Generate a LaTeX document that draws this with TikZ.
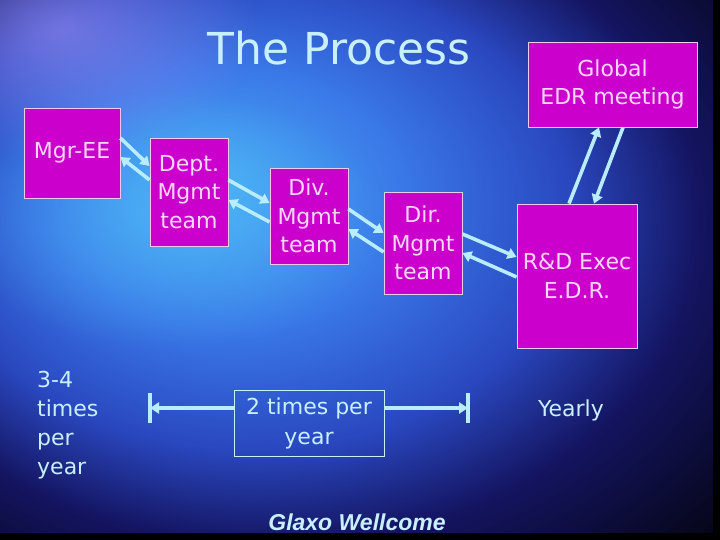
\documentclass[tikz,border=0pt]{standalone}
\usepackage{fontspec}
\setmainfont{DejaVu Sans}
\newfontfamily\glaxofont{Liberation Sans}
\usetikzlibrary{arrows.meta,fadings}
\definecolor{boxfill}{HTML}{CC00CC}
\definecolor{boxline}{HTML}{F0C8F0}
\definecolor{boxtext}{HTML}{F8D8F8}
\definecolor{paletext}{HTML}{C8F0FF}
\definecolor{arrowcol}{HTML}{B8ECFF}
\definecolor{bgA}{HTML}{4AAEF4}
\definecolor{bgB}{HTML}{3A78E8}
\definecolor{bgC}{HTML}{2A48C0}
\definecolor{bgD}{HTML}{141460}
\definecolor{bgE}{HTML}{06061A}
\definecolor{violetspot}{HTML}{A090F4}
\definecolor{cyanspot}{HTML}{50C0F8}
\pgfdeclareradialshading{bgshade}{\pgfpoint{-11bp}{8bp}}{color(0bp)=(bgA); color(12bp)=(bgB); color(22bp)=(bgC); color(30bp)=(bgD); color(40bp)=(bgE); color(70bp)=(bgE)}
\tikzfading[name=softspot, inner color=transparent!0, outer color=transparent!100]
\tikzset{
  procbox/.style={draw=boxline, line width=0.8pt, fill=boxfill, text=boxtext, inner sep=0pt, align=center, font=\fontsize{22}{28.5}\selectfont},
  spanbox/.style={draw=paletext, line width=0.8pt, text=paletext, inner sep=0pt, align=center, font=\fontsize{22}{30}\selectfont},
  plaintext/.style={text=paletext, inner sep=0pt, font=\fontsize{22}{29}\selectfont},
  conn/.style={draw=arrowcol, line width=3.6pt, -{Triangle[length=9pt,width=11pt]}},
  barline/.style={draw=arrowcol, line width=3.6pt}
}
\begin{document}
\begin{tikzpicture}[x=1pt,y=-1pt]
\useasboundingbox (0,0) rectangle (720,540);
% background
\shade[shading=bgshade] (0,0) rectangle (720,540);
\fill[violetspot, opacity=0.6, path fading=softspot] (60,30) ellipse [x radius=200, y radius=130];
\fill[cyanspot, opacity=0.55, path fading=softspot] (170,220) ellipse [x radius=220, y radius=130];
\fill[black] (0,533) rectangle (720,540);
\fill[black] (713,0) rectangle (720,540);

% title
\node[text=paletext, inner sep=0pt, font=\fontsize{44}{50}\selectfont] (title) at (339,48.5) {The Process};

% boxes
\node[procbox, minimum width=96pt, minimum height=90pt] (mgr) at (72,153) {Mgr-EE};
\node[procbox, minimum width=78pt, minimum height=108pt] (dept) at (189,192) {Dept.\\Mgmt\\team};
\node[procbox, minimum width=78pt, minimum height=96pt] (div) at (309,216) {Div.\\Mgmt\\team};
\node[procbox, minimum width=78pt, minimum height=102pt] (dir) at (423,243) {Dir.\\Mgmt\\team};
\node[procbox, minimum width=120pt, minimum height=144pt] (rd) at (577,276) {R\&D Exec\\E.D.R.};
\node[procbox, minimum width=169pt, minimum height=85pt] (glob) at (612.5,84.5) {Global\\EDR meeting};

% connectors
\draw[conn] ([yshift=15pt]mgr.east) -- ([yshift=26pt]dept.west);
\draw[conn] ([yshift=12pt]dept.west) -- ([yshift=-4pt]mgr.east);
\draw[conn] ([yshift=12pt]dept.east) -- ([yshift=13pt]div.west);
\draw[conn] ([yshift=-6pt]div.west) -- ([yshift=-8pt]dept.east);
\draw[conn] ([yshift=7pt]div.east) -- ([yshift=10pt]dir.west);
\draw[conn] ([yshift=-9pt]dir.west) -- ([yshift=-13pt]div.east);
\draw[conn] ([yshift=9pt]dir.east) -- ([yshift=19pt]rd.west);
\draw[conn] ([yshift=-1pt]rd.west) -- ([yshift=-10pt]dir.east);
\draw[conn] ([xshift=-8pt]rd.north) -- ([xshift=-13.5pt]glob.south);
\draw[conn] ([xshift=10.5pt]glob.south) -- ([xshift=17pt]rd.north);

% frequency labels
\node[plaintext, anchor=west, align=left] (freqA) at (37,425) {3-4\\times\\per\\year};
\node[spanbox, minimum width=150pt, minimum height=66pt] (freqB) at (309,423) {2 times per\\year};
\node[plaintext] (freqC) at (571,410) {Yearly};

\coordinate (lbar) at (150,408);
\coordinate (rbar) at (468,408);
\draw[conn] (freqB.west |- lbar) -- (lbar);
\draw[conn] (freqB.east |- rbar) -- (rbar);
\draw[barline] ([yshift=15pt]lbar) -- ([yshift=-15pt]lbar);
\draw[barline] ([yshift=15pt]rbar) -- ([yshift=-15pt]rbar);

% footer
\node[text=paletext, inner sep=0pt, font=\glaxofont\bfseries\itshape\fontsize{23}{26}\selectfont] (glaxo) at (357,522) {Glaxo Wellcome};
\end{tikzpicture}
\end{document}
